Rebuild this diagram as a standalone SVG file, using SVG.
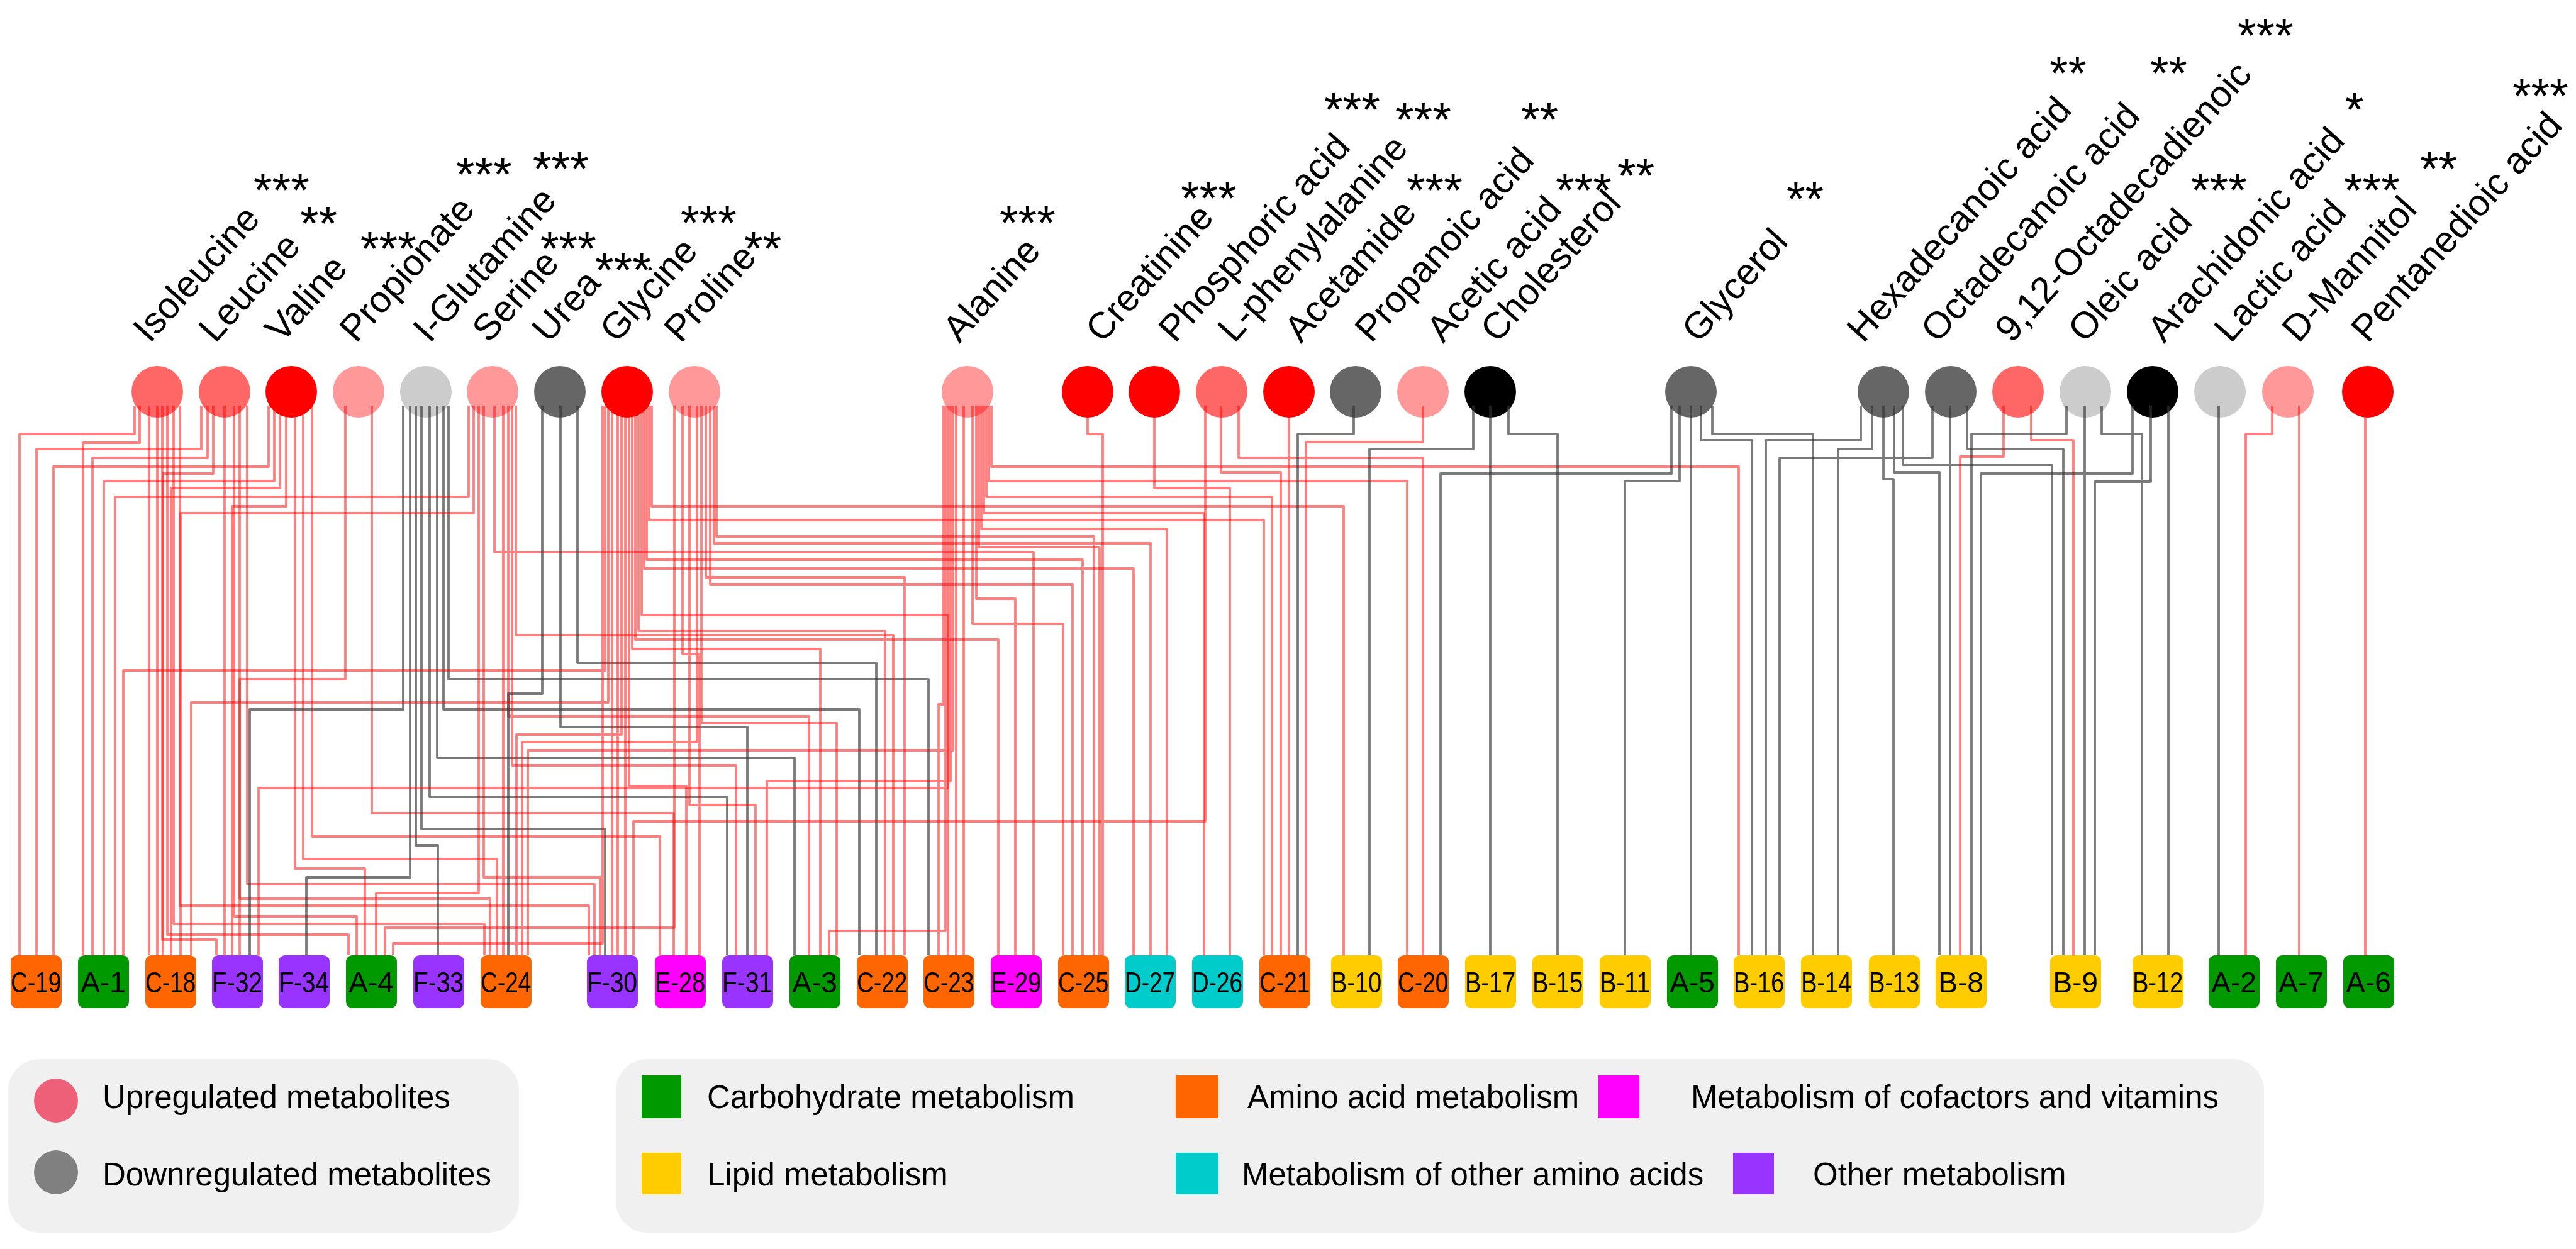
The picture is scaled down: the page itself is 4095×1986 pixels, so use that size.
<svg xmlns="http://www.w3.org/2000/svg" width="4095" height="1986" viewBox="0 0 4095 1986">
<style>
text{font-family:"Liberation Sans",Arial,sans-serif;fill:#000}
.lbl{font-size:59px}
.st{font-size:76px}
.bt{font-size:46px;text-anchor:middle}
.lg{font-size:51px}
.r{fill:none;stroke:#ff0000;stroke-opacity:.5;stroke-width:3.8;stroke-linejoin:round}
.g{fill:none;stroke:#333;stroke-opacity:.65;stroke-width:3.8;stroke-linejoin:round}
.A{fill:#009900}.B{fill:#ffcc00}.C{fill:#ff6600}.D{fill:#00cccc}.E{fill:#ff00ff}.F{fill:#9933ff}
</style>
<rect width="4095" height="1986" fill="#fff"/>
<g id="legend">
<rect x="13" y="1684" width="812" height="276" rx="50" fill="#f0f0f0"/>
<rect x="979" y="1684" width="2620" height="276" rx="50" fill="#f0f0f0"/>
<circle cx="89" cy="1750" r="35" fill="#ee6077"/>
<text class="lg" x="163" y="1762">Upregulated metabolites</text>
<circle cx="89" cy="1864" r="35" fill="#808080"/>
<text class="lg" x="163" y="1885">Downregulated metabolites</text>
<rect class="A" x="1020" y="1710" width="63" height="68"/>
<text class="lg" x="1124" y="1762">Carbohydrate metabolism</text>
<rect class="C" x="1869" y="1710" width="68" height="68"/>
<text class="lg" x="1983" y="1762">Amino acid metabolism</text>
<rect class="E" x="2541" y="1710" width="65" height="68"/>
<text class="lg" x="2688" y="1762">Metabolism of cofactors and vitamins</text>
<rect class="B" x="1020" y="1833" width="63" height="66"/>
<text class="lg" x="1124" y="1885">Lipid metabolism</text>
<rect class="D" x="1869" y="1833" width="68" height="66"/>
<text class="lg" x="1974" y="1885">Metabolism of other amino acids</text>
<rect class="F" x="2755" y="1833" width="65" height="66"/>
<text class="lg" x="2882" y="1885">Other metabolism</text>
</g>
<g id="metabolites">
<g id="m-isoleucine"><circle cx="250" cy="623" r="41" fill="#ff6666"/><text class="lbl" transform="translate(238,547) rotate(-48)">Isoleucine</text><text class="st" x="403" y="328">***</text></g>
<g id="m-leucine"><circle cx="357" cy="623" r="41" fill="#ff6666"/><text class="lbl" transform="translate(342,547) rotate(-48)">Leucine</text><text class="st" x="477" y="381">**</text></g>
<g id="m-valine"><circle cx="463" cy="623" r="41" fill="#ff0000"/><text class="lbl" transform="translate(448,547) rotate(-48)">Valine</text><text class="st" x="573" y="421">***</text></g>
<g id="m-propionate"><circle cx="570" cy="623" r="41" fill="#ff9999"/><text class="lbl" transform="translate(566,547) rotate(-48)">Propionate</text><text class="st" x="725" y="303">***</text></g>
<g id="m-glutamine"><circle cx="677" cy="623" r="41" fill="#cccccc"/><text class="lbl" transform="translate(683,547) rotate(-48)">I-Glutamine</text><text class="st" x="847" y="294">***</text></g>
<g id="m-serine"><circle cx="783" cy="623" r="41" fill="#ff9999"/><text class="lbl" transform="translate(777,547) rotate(-48)">Serine</text><text class="st" x="859" y="421">***</text></g>
<g id="m-urea"><circle cx="890" cy="623" r="41" fill="#666666"/><text class="lbl" transform="translate(872,547) rotate(-48)">Urea</text><text class="st" x="946" y="455">***</text></g>
<g id="m-glycine"><circle cx="997" cy="623" r="41" fill="#ff0000"/><text class="lbl" transform="translate(980,547) rotate(-48)">Glycine</text><text class="st" x="1082" y="380">***</text></g>
<g id="m-proline"><circle cx="1104" cy="623" r="41" fill="#ff9999"/><text class="lbl" transform="translate(1082,547) rotate(-48)">Proline</text><text class="st" x="1183" y="421">**</text></g>
<g id="m-alanine"><circle cx="1538" cy="623" r="41" fill="#ff9999"/><text class="lbl" transform="translate(1525,547) rotate(-48)">Alanine</text><text class="st" x="1589" y="380">***</text></g>
<g id="m-creatinine"><circle cx="1729" cy="623" r="41" fill="#ff0000"/><text class="lbl" transform="translate(1752,547) rotate(-48)">Creatinine</text><text class="st" x="1877" y="341">***</text></g>
<g id="m-phosphoric"><circle cx="1835" cy="623" r="41" fill="#ff0000"/><text class="lbl" transform="translate(1868,547) rotate(-48)">Phosphoric acid</text><text class="st" x="2105" y="200">***</text></g>
<g id="m-phenylalanine"><circle cx="1942" cy="623" r="41" fill="#ff6666"/><text class="lbl" transform="translate(1962,547) rotate(-48)">L-phenylalanine</text><text class="st" x="2218" y="216">***</text></g>
<g id="m-acetamide"><circle cx="2049" cy="623" r="41" fill="#ff0000"/><text class="lbl" transform="translate(2068,547) rotate(-48)">Acetamide</text><text class="st" x="2236" y="328">***</text></g>
<g id="m-propanoic"><circle cx="2155" cy="623" r="41" fill="#666666"/><text class="lbl" transform="translate(2180,547) rotate(-48)">Propanoic acid</text><text class="st" x="2418" y="216">**</text></g>
<g id="m-acetic"><circle cx="2262" cy="623" r="41" fill="#ff9999"/><text class="lbl" transform="translate(2294,547) rotate(-48)">Acetic acid</text><text class="st" x="2473" y="328">***</text></g>
<g id="m-cholesterol"><circle cx="2369" cy="623" r="41" fill="#000000"/><text class="lbl" transform="translate(2380,547) rotate(-48)">Cholesterol</text><text class="st" x="2571" y="305">**</text></g>
<g id="m-glycerol"><circle cx="2688" cy="623" r="41" fill="#666666"/><text class="lbl" transform="translate(2700,547) rotate(-48)">Glycerol</text><text class="st" x="2840" y="342">**</text></g>
<g id="m-hexadecanoic"><circle cx="2994" cy="623" r="41" fill="#666666"/><text class="lbl" transform="translate(2962,547) rotate(-48)">Hexadecanoic acid</text><text class="st" x="3258" y="142">**</text></g>
<g id="m-octadecanoic"><circle cx="3101" cy="623" r="41" fill="#666666"/><text class="lbl" transform="translate(3080,547) rotate(-48)">Octadecanoic acid</text><text class="st" x="3418" y="142">**</text></g>
<g id="m-octadecadienoic"><circle cx="3208" cy="623" r="41" fill="#ff6666"/><text class="lbl" transform="translate(3198,547) rotate(-48)">9,12-Octadecadienoic</text><text class="st" x="3557" y="82">***</text></g>
<g id="m-oleic"><circle cx="3315" cy="623" r="41" fill="#cccccc"/><text class="lbl" transform="translate(3314,547) rotate(-48)">Oleic acid</text><text class="st" x="3483" y="328">***</text></g>
<g id="m-arachidonic"><circle cx="3422" cy="623" r="41" fill="#000000"/><text class="lbl" transform="translate(3440,547) rotate(-48)">Arachidonic acid</text><text class="st" x="3728" y="200">*</text></g>
<g id="m-lactic"><circle cx="3529" cy="623" r="41" fill="#cccccc"/><text class="lbl" transform="translate(3546,547) rotate(-48)">Lactic acid</text><text class="st" x="3726" y="328">***</text></g>
<g id="m-mannitol"><circle cx="3637" cy="623" r="41" fill="#ff9999"/><text class="lbl" transform="translate(3654,547) rotate(-48)">D-Mannitol</text><text class="st" x="3847" y="294">**</text></g>
<g id="m-pentanedioic"><circle cx="3764" cy="623" r="41" fill="#ff0000"/><text class="lbl" transform="translate(3764,547) rotate(-48)">Pentanedioic acid</text><text class="st" x="3994" y="178">***</text></g>
</g>
<g id="connectors">
<path class="r" d="M214 645V690H31V1519M222 645V704H132V1519M237 645V1519M250 645V1519M258 645V1494H344V1519M266 645V1486H554V1519M276 645V1469H770V1519M286 645V1440H936V1519"/>
<path class="r" d="M320 645V714H58V1519M330 645V728H147V1519M339 645V753H259V1519M357 645V1519M372 645V1457H567V1519M381 645V1429H779V1519M393 645V1406H945V1519"/>
<path class="r" d="M427 645V742H85V1519M436 645V765H165V1519M445 645V776H272V1519M455 645V805H369V1519M469 645V1381H580V1519M482 645V1366H790V1519M496 645V1330H1049V1519"/>
<path class="r" d="M549 645V1080H381V1519M591 645V1293H1071V1519"/>
<path class="g" d="M641 645V1128H397V1519M652 645V1395H487V1519M661 645V1344H696V1519M670 645V1318H962V1519M683 645V1267H1156V1519M695 645V1205H1263V1519M705 645V1128H1366V1519M713 645V1080H1476V1519"/>
<path class="r" d="M745 645V790H183V1519M753 645V816H287V1519M761 645V1420H598V1519M769 645V1395H954V1519M786 645V878H1643V1519M800 645V1519M808 645V1139H1286V1519M814 645V1217H1170V1519M820 645V1010H1420V1519"/>
<path class="g" d="M862 645V1103H808V1519M891 645V1156H1188V1519M918 645V1054H1393V1519"/>
<path class="r" d="M958 645V1500H625V1519M962 645V1066H196V1519M967 645V1117H304V1519M973 645V1519M982 645V1519M988 645V1168H821V1519M994 645V1519M1000 645V1250H1091V1519M1005 645V1032H1304V1519M1010 645V1017H1587V1519M1015 645V1003H1407V1519M1020 645V978H1507V1519M1024 645V904H1802V1519M1028 645V890H1721V1519M1032 645V827H2009V1519M1036 645V805H2136V1519"/>
<path class="r" d="M1072 645V1475H612V1519M1085 645V1040H1112V1519M1096 645V1280H1201V1519M1108 645V1180H830V1519M1115 645V1150H1330V1519M1122 645V918H1438V1519M1129 645V929H1705V1519M1135 645V864H1829V1519M1139 645V853H1739V1519"/>
<path class="r" d="M1576 645V742H2764V1519M1572 645V765H2237V1519M1568 645V790H2022V1519M1564 645V816H1914V1519M1560 645V841H1855V1519M1556 645V870H1748V1519M1552 645V952H1614V1519M1546 645V992H1690V1519M1532 645V1519M1520 645V1519M1515 645V1193H839V1519M1511 645V1242H1219V1519M1507 645V1253H411V1519M1503 645V1480H1318V1519M1500 645V1120H1492V1519"/>
<path class="r" d="M1916 645V1306H1007V1519M1941 645V751H2036V1519M1969 645V728H2262V1519M1729 645V690H1753V1519M1835 645V776H1955V1519M2049 645V1519M2262 645V703H2076V1519"/>
<path class="g" d="M2152 645V690H2063V1519M2342 645V714H2177V1519M2369 645V1519M2398 645V690H2476V1519"/>
<path class="g" d="M2657 645V753H2290V1519M2670 645V765H2583V1519M2688 645V1519M2704 645V700H2785V1519M2722 645V690H2882V1519"/>
<path class="g" d="M2958 645V700H2807V1519M2976 645V714H2922V1519M2994 645V762H3010V1519M3011 645V751H3083V1519M3025 645V739H3262V1519M3072 645V728H2829V1519M3100 645V1519M3127 645V714H3280V1519"/>
<path class="r" d="M3185 645V726H3116V1519M3229 645V700H3296V1519M3612 645V690H3570V1519M3655 645V1519M3760 645V1519"/>
<path class="g" d="M3285 645V690H3134V1519M3314 645V1519M3341 645V690H3405V1519M3390 645V753H3149V1519M3419 645V766H3330V1519M3447 645V1519M3527 645V1519"/>
</g>
<g id="pathways">
<g id="p-C-19"><rect class="C" x="17" y="1519" width="81" height="84" rx="10"/><text class="bt" x="57" y="1578" textLength="80" lengthAdjust="spacingAndGlyphs">C-19</text></g>
<g id="p-A-1"><rect class="A" x="124" y="1519" width="81" height="84" rx="10"/><text class="bt" x="164" y="1578">A-1</text></g>
<g id="p-C-18"><rect class="C" x="231" y="1519" width="81" height="84" rx="10"/><text class="bt" x="271" y="1578" textLength="80" lengthAdjust="spacingAndGlyphs">C-18</text></g>
<g id="p-F-32"><rect class="F" x="337" y="1519" width="81" height="84" rx="10"/><text class="bt" x="377" y="1578" textLength="80" lengthAdjust="spacingAndGlyphs">F-32</text></g>
<g id="p-F-34"><rect class="F" x="443" y="1519" width="81" height="84" rx="10"/><text class="bt" x="483" y="1578" textLength="80" lengthAdjust="spacingAndGlyphs">F-34</text></g>
<g id="p-A-4"><rect class="A" x="550" y="1519" width="81" height="84" rx="10"/><text class="bt" x="590" y="1578">A-4</text></g>
<g id="p-F-33"><rect class="F" x="657" y="1519" width="81" height="84" rx="10"/><text class="bt" x="697" y="1578" textLength="80" lengthAdjust="spacingAndGlyphs">F-33</text></g>
<g id="p-C-24"><rect class="C" x="764" y="1519" width="81" height="84" rx="10"/><text class="bt" x="804" y="1578" textLength="80" lengthAdjust="spacingAndGlyphs">C-24</text></g>
<g id="p-F-30"><rect class="F" x="933" y="1519" width="81" height="84" rx="10"/><text class="bt" x="973" y="1578" textLength="80" lengthAdjust="spacingAndGlyphs">F-30</text></g>
<g id="p-E-28"><rect class="E" x="1041" y="1519" width="81" height="84" rx="10"/><text class="bt" x="1081" y="1578" textLength="80" lengthAdjust="spacingAndGlyphs">E-28</text></g>
<g id="p-F-31"><rect class="F" x="1148" y="1519" width="81" height="84" rx="10"/><text class="bt" x="1188" y="1578" textLength="80" lengthAdjust="spacingAndGlyphs">F-31</text></g>
<g id="p-A-3"><rect class="A" x="1255" y="1519" width="81" height="84" rx="10"/><text class="bt" x="1295" y="1578">A-3</text></g>
<g id="p-C-22"><rect class="C" x="1362" y="1519" width="81" height="84" rx="10"/><text class="bt" x="1402" y="1578" textLength="80" lengthAdjust="spacingAndGlyphs">C-22</text></g>
<g id="p-C-23"><rect class="C" x="1468" y="1519" width="81" height="84" rx="10"/><text class="bt" x="1508" y="1578" textLength="80" lengthAdjust="spacingAndGlyphs">C-23</text></g>
<g id="p-E-29"><rect class="E" x="1575" y="1519" width="81" height="84" rx="10"/><text class="bt" x="1615" y="1578" textLength="80" lengthAdjust="spacingAndGlyphs">E-29</text></g>
<g id="p-C-25"><rect class="C" x="1682" y="1519" width="81" height="84" rx="10"/><text class="bt" x="1722" y="1578" textLength="80" lengthAdjust="spacingAndGlyphs">C-25</text></g>
<g id="p-D-27"><rect class="D" x="1788" y="1519" width="81" height="84" rx="10"/><text class="bt" x="1828" y="1578" textLength="80" lengthAdjust="spacingAndGlyphs">D-27</text></g>
<g id="p-D-26"><rect class="D" x="1895" y="1519" width="81" height="84" rx="10"/><text class="bt" x="1935" y="1578" textLength="80" lengthAdjust="spacingAndGlyphs">D-26</text></g>
<g id="p-C-21"><rect class="C" x="2002" y="1519" width="81" height="84" rx="10"/><text class="bt" x="2042" y="1578" textLength="80" lengthAdjust="spacingAndGlyphs">C-21</text></g>
<g id="p-B-10"><rect class="B" x="2116" y="1519" width="81" height="84" rx="10"/><text class="bt" x="2156" y="1578" textLength="80" lengthAdjust="spacingAndGlyphs">B-10</text></g>
<g id="p-C-20"><rect class="C" x="2222" y="1519" width="81" height="84" rx="10"/><text class="bt" x="2262" y="1578" textLength="80" lengthAdjust="spacingAndGlyphs">C-20</text></g>
<g id="p-B-17"><rect class="B" x="2329" y="1519" width="81" height="84" rx="10"/><text class="bt" x="2369" y="1578" textLength="80" lengthAdjust="spacingAndGlyphs">B-17</text></g>
<g id="p-B-15"><rect class="B" x="2436" y="1519" width="81" height="84" rx="10"/><text class="bt" x="2476" y="1578" textLength="80" lengthAdjust="spacingAndGlyphs">B-15</text></g>
<g id="p-B-11"><rect class="B" x="2543" y="1519" width="81" height="84" rx="10"/><text class="bt" x="2583" y="1578" textLength="80" lengthAdjust="spacingAndGlyphs">B-11</text></g>
<g id="p-A-5"><rect class="A" x="2650" y="1519" width="81" height="84" rx="10"/><text class="bt" x="2690" y="1578">A-5</text></g>
<g id="p-B-16"><rect class="B" x="2756" y="1519" width="81" height="84" rx="10"/><text class="bt" x="2796" y="1578" textLength="80" lengthAdjust="spacingAndGlyphs">B-16</text></g>
<g id="p-B-14"><rect class="B" x="2863" y="1519" width="81" height="84" rx="10"/><text class="bt" x="2903" y="1578" textLength="80" lengthAdjust="spacingAndGlyphs">B-14</text></g>
<g id="p-B-13"><rect class="B" x="2971" y="1519" width="81" height="84" rx="10"/><text class="bt" x="3011" y="1578" textLength="80" lengthAdjust="spacingAndGlyphs">B-13</text></g>
<g id="p-B-8"><rect class="B" x="3077" y="1519" width="81" height="84" rx="10"/><text class="bt" x="3117" y="1578">B-8</text></g>
<g id="p-B-9"><rect class="B" x="3259" y="1519" width="81" height="84" rx="10"/><text class="bt" x="3299" y="1578">B-9</text></g>
<g id="p-B-12"><rect class="B" x="3390" y="1519" width="81" height="84" rx="10"/><text class="bt" x="3430" y="1578" textLength="80" lengthAdjust="spacingAndGlyphs">B-12</text></g>
<g id="p-A-2"><rect class="A" x="3511" y="1519" width="81" height="84" rx="10"/><text class="bt" x="3551" y="1578">A-2</text></g>
<g id="p-A-7"><rect class="A" x="3618" y="1519" width="81" height="84" rx="10"/><text class="bt" x="3658" y="1578">A-7</text></g>
<g id="p-A-6"><rect class="A" x="3725" y="1519" width="81" height="84" rx="10"/><text class="bt" x="3765" y="1578">A-6</text></g>
</g>
</svg>
